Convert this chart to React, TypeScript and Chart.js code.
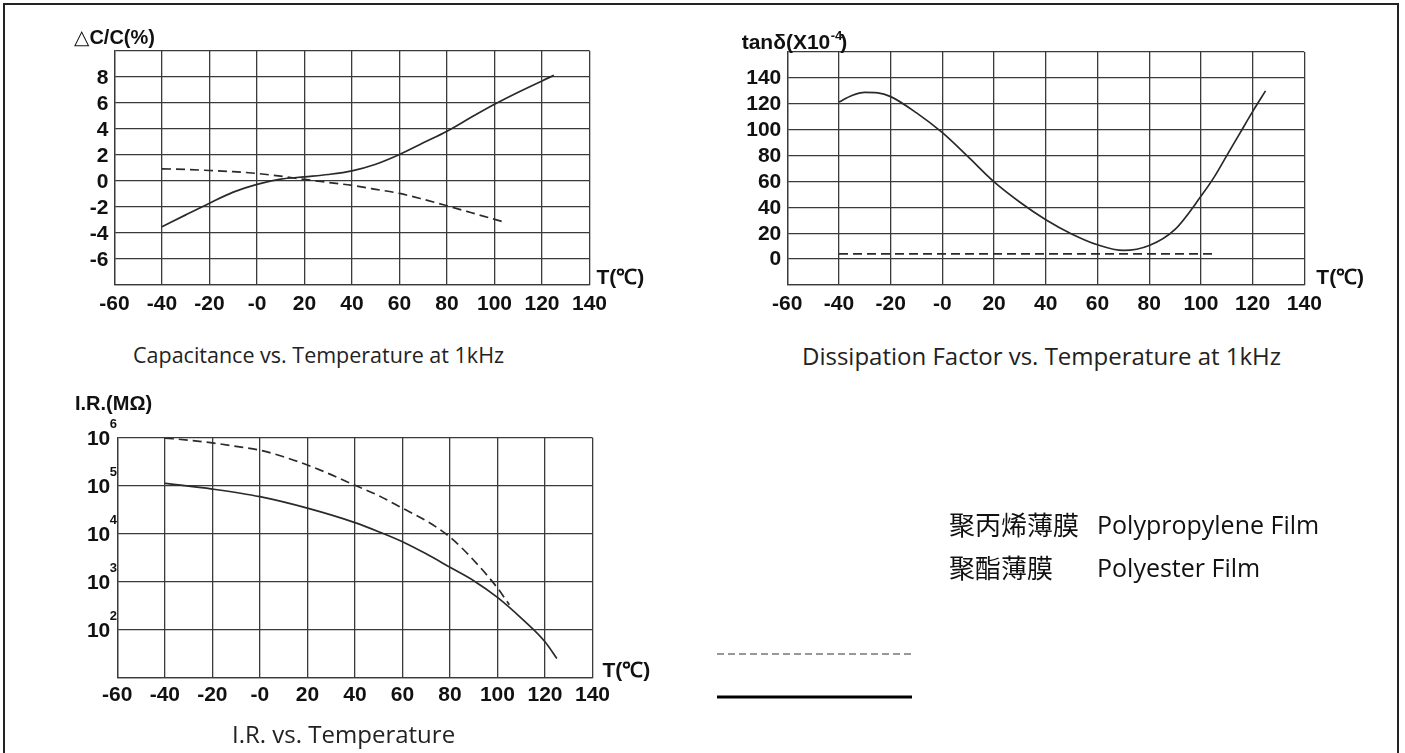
import React, { useEffect, useRef } from 'react';
import { Chart, registerables } from 'chart.js';

Chart.register(...registerables);

// ---------- shared temperature axis ----------
const tempTicks = [-60, -40, -20, 0, 20, 40, 60, 80, 100, 120, 140];
const tempTickLabels = ['-60', '-40', '-20', '-0', '20', '40', '60', '80', '100', '120', '140'];
const tempAxisTitle = 'T(℃)';

// ---------- Capacitance vs. Temperature ----------
const capTitleSymbol = '△';
const capTitleText = 'C/C(%)';
const capTicks = [-8, -6, -4, -2, 0, 2, 4, 6, 8, 10];
const capTickLabels = ['', '-6', '-4', '-2', '0', '2', '4', '6', '8', ''];
const capPolyesterT = [-40, -30, -20, -10, 0, 10, 20, 30, 40, 50, 60, 70, 80, 90, 100, 110, 125];
const capPolyester = [-3.57, -2.65, -1.75, -0.9, -0.3, 0.1, 0.28, 0.46, 0.74, 1.25, 2.0, 2.9, 3.8, 4.85, 5.87, 6.8, 8.1];
const capPolypropyleneT = [-40, -30, -20, -10, 0, 10, 20, 30, 40, 50, 60, 70, 80, 90, 105];
const capPolypropylene = [0.9, 0.85, 0.77, 0.68, 0.54, 0.33, 0.08, -0.15, -0.38, -0.68, -1.0, -1.45, -1.95, -2.47, -3.26];
const capCaption = 'Capacitance vs. Temperature at 1kHz';

// ---------- Dissipation factor vs. Temperature ----------
const dfTitleMain = 'tanδ(X10';
const dfTitleSup = '-4';
const dfTitleEnd = ')';
const dfTicks = [-20, 0, 20, 40, 60, 80, 100, 120, 140, 160];
const dfTickLabels = ['', '0', '20', '40', '60', '80', '100', '120', '140', ''];
const dfPolyesterT = [-40, -35, -30, -25, -20, -10, 0, 10, 20, 30, 40, 50, 60, 70, 80, 90, 100, 105, 110, 115, 120, 125];
const dfPolyester = [121.4, 126.5, 128.8, 128.5, 125.6, 113, 97.7, 79, 59.7, 44, 30.5, 19.5, 11.1, 6.7, 10.5, 23, 48.5, 63, 80, 97, 114, 130];
const dfPolypropyleneT = [-40, 105];
const dfPolypropylene = [4.1, 4.1];
const dfCaption = 'Dissipation Factor vs. Temperature at 1kHz';

// ---------- Insulation resistance vs. Temperature ----------
const irTitle = 'I.R.(MΩ)';
const irTicks = [10, 100, 1000, 10000, 100000, 1000000];
const irTickLabels = ['', '10', '10', '10', '10', '10'];
const irTickExponents = ['', '2', '3', '4', '5', '6'];
const irPolyesterT = [-40, -20, 0, 20, 40, 50, 60, 70, 80, 90, 100, 110, 120, 125];
const irPolyester = [112000, 85000, 59000, 34000, 17000, 11000, 6800, 3800, 2000, 1050, 470, 174, 56, 25];
const irPolypropyleneT = [-40, -30, -20, -10, 0, 10, 20, 30, 40, 50, 60, 70, 80, 90, 100, 105];
const irPolypropylene = [980000, 890000, 780000, 660000, 550000, 400000, 270000, 170000, 102000, 62000, 34000, 18600, 8500, 2800, 740, 330];
const irCaption = 'I.R. vs. Temperature';

// ---------- legend ----------
const legendCn = ['聚丙烯薄膜', '聚酯薄膜'];
const legendEn = ['Polypropylene Film', 'Polyester Film'];

// ---------- styles ----------
const TICK_FONT = '"Liberation Sans", Arial, sans-serif';
const CAPTION_FONT = '"Open Sans", "Noto Sans CJK SC", sans-serif';
const CJK_FONT = '"Noto Sans CJK SC", sans-serif';
const TEXT = '#111111';
const GRID = '#3a3a3a';
const CURVE = '#2a2a2a';

type Series = { t: number[]; v: number[]; dashed: boolean };
type Area = { left: number; top: number; right: number; bottom: number };
type PanelProps = {
  left: number;
  top: number;
  width: number;
  height: number;
  area: Area;
  logY?: boolean;
  yTicks: number[];
  yTickLabels: string[];
  xPad: number;
  yPad: number;
  yLabelOffset: number;
  series: Series[];
  decorate: (ctx: CanvasRenderingContext2D, chart: Chart) => void;
};

function Panel(p: PanelProps) {
  const ref = useRef<HTMLCanvasElement>(null);
  useEffect(() => {
    const canvas = ref.current;
    if (!canvas) return;
    const a = p.area;
    const tickFont = { family: TICK_FONT, size: 21, weight: 'bold' as const };
    const chart = new Chart(canvas, {
      type: 'line',
      data: {
        datasets: p.series.map((s) => ({
          data: s.t.map((x, i) => ({ x, y: s.v[i] })),
          borderColor: CURVE,
          borderWidth: 1.7,
          borderDash: s.dashed ? [9, 5] : [],
          pointRadius: 0,
          pointHoverRadius: 0,
          fill: false,
          cubicInterpolationMode: 'monotone' as const,
        })),
      },
      options: {
        responsive: false,
        animation: false,
        events: [],
        layout: { padding: { left: 0, top: a.top, right: p.width - a.right, bottom: 0 } },
        plugins: { legend: { display: false }, tooltip: { enabled: false }, title: { display: false } },
        scales: {
          x: {
            type: 'linear',
            min: tempTicks[0],
            max: tempTicks[tempTicks.length - 1],
            afterBuildTicks: (s: any) => {
              s.ticks = tempTicks.map((value) => ({ value }));
            },
            afterFit: (s: any) => {
              s.height = p.height - a.bottom;
            },
            grid: { color: GRID, lineWidth: 1.3, drawTicks: false },
            border: { color: GRID, width: 1.3 },
            ticks: {
              padding: p.xPad,
              color: TEXT,
              font: tickFont,
              autoSkip: false,
              maxRotation: 0,
              minRotation: 0,
              callback: (_v: any, i: number) => tempTickLabels[i],
            },
          },
          y: {
            type: p.logY ? 'logarithmic' : 'linear',
            min: p.yTicks[0],
            max: p.yTicks[p.yTicks.length - 1],
            afterBuildTicks: (s: any) => {
              s.ticks = p.yTicks.map((value) => ({ value }));
            },
            afterFit: (s: any) => {
              s.width = a.left;
            },
            grid: { color: GRID, lineWidth: 1.3, drawTicks: false },
            border: { color: GRID, width: 1.3 },
            ticks: {
              padding: p.yPad,
              labelOffset: p.yLabelOffset,
              color: TEXT,
              font: tickFont,
              autoSkip: false,
              callback: (_v: any, i: number) => p.yTickLabels[i],
            },
          } as any,
        },
      },
      plugins: [
        {
          id: 'decor',
          afterDraw: (c: Chart) => {
            const ctx = c.ctx;
            ctx.save();
            p.decorate(ctx, c);
            ctx.restore();
          },
        },
      ],
    });
    return () => chart.destroy();
  }, []);
  return (
    <canvas
      ref={ref}
      width={p.width}
      height={p.height}
      style={{ position: 'absolute', left: p.left, top: p.top, width: p.width, height: p.height, display: 'block' }}
    />
  );
}

function drawTempTitle(ctx: CanvasRenderingContext2D, c: Chart, dx: number, dy: number) {
  const a = c.chartArea;
  ctx.fillStyle = TEXT;
  ctx.font = `bold 21px ${TICK_FONT}`;
  ctx.textAlign = 'left';
  ctx.textBaseline = 'middle';
  ctx.fillText(tempAxisTitle, a.right + dx, a.bottom - dy);
}

const captionStyle = (left: number, top: number, size: number): React.CSSProperties => ({
  position: 'absolute',
  left,
  top,
  fontFamily: CAPTION_FONT,
  fontSize: size,
  lineHeight: `${size}px`,
  color: '#222',
  whiteSpace: 'nowrap',
});

const legendStyle = (left: number, top: number, cjk: boolean): React.CSSProperties => ({
  position: 'absolute',
  left,
  top,
  fontFamily: cjk ? CJK_FONT : CAPTION_FONT,
  fontSize: cjk ? 26 : 25,
  lineHeight: cjk ? '26px' : '25px',
  color: '#111',
  whiteSpace: 'nowrap',
});

export default function App() {
  return (
    <div
      style={{
        position: 'absolute',
        left: 0,
        top: 0,
        width: 1405,
        height: 753,
        overflow: 'hidden',
        background: '#fff',
      }}
    >
      <div
        style={{
          position: 'absolute',
          left: 3,
          top: 3,
          width: 1396,
          height: 800,
          border: '2px solid #222',
          boxSizing: 'border-box',
        }}
      />
      <Panel
        left={0}
        top={0}
        width={700}
        height={330}
        area={{ left: 114.5, top: 50.7, right: 589.5, bottom: 284.3 }}
        yTicks={capTicks}
        yTickLabels={capTickLabels}
        xPad={7.5}
        yPad={6}
        yLabelOffset={1.5}
        series={[
          { t: capPolyesterT, v: capPolyester, dashed: false },
          { t: capPolypropyleneT, v: capPolypropylene, dashed: true },
        ]}
        decorate={(ctx, c) => {
          const a = c.chartArea;
          ctx.fillStyle = TEXT;
          ctx.textAlign = 'left';
          ctx.textBaseline = 'middle';
          ctx.font = `20px "DejaVu Sans", sans-serif`;
          const x0 = a.left - 40.5;
          const y0 = a.top - 12;
          ctx.fillText(capTitleSymbol, x0, y0);
          const w = ctx.measureText(capTitleSymbol).width;
          ctx.font = `bold 20px ${TICK_FONT}`;
          ctx.fillText(capTitleText, x0 + w, y0);
          drawTempTitle(ctx, c, 7, 6);
        }}
      />
      <Panel
        left={700}
        top={0}
        width={705}
        height={330}
        area={{ left: 87.3, top: 52.1, right: 604.3, bottom: 285 }}
        yTicks={dfTicks}
        yTickLabels={dfTickLabels}
        xPad={7}
        yPad={6}
        yLabelOffset={0.5}
        series={[
          { t: dfPolyesterT, v: dfPolyester, dashed: false },
          { t: dfPolypropyleneT, v: dfPolypropylene, dashed: true },
        ]}
        decorate={(ctx, c) => {
          ctx.fillStyle = TEXT;
          ctx.textAlign = 'left';
          ctx.textBaseline = 'middle';
          ctx.font = `bold 21px ${TICK_FONT}`;
          const x0 = 41.7;
          const y0 = 43;
          ctx.fillText(dfTitleMain, x0, y0);
          const w1 = ctx.measureText(dfTitleMain).width;
          ctx.font = `bold 13px ${TICK_FONT}`;
          ctx.fillText(dfTitleSup, x0 + w1 + 0.5, y0 - 6.5);
          const w2 = ctx.measureText(dfTitleSup).width;
          ctx.font = `bold 21px ${TICK_FONT}`;
          ctx.fillText(dfTitleEnd, x0 + w1 + w2 - 1.5, y0);
          drawTempTitle(ctx, c, 12, 7);
        }}
      />
      <Panel
        left={0}
        top={370}
        width={700}
        height={383}
        area={{ left: 117.3, top: 67.7, right: 592.5, bottom: 307.7 }}
        logY
        yTicks={irTicks}
        yTickLabels={irTickLabels}
        xPad={5}
        yPad={7}
        yLabelOffset={1.5}
        series={[
          { t: irPolyesterT, v: irPolyester, dashed: false },
          { t: irPolypropyleneT, v: irPolypropylene, dashed: true },
        ]}
        decorate={(ctx, c) => {
          const a = c.chartArea;
          const ys = c.scales.y;
          ctx.fillStyle = TEXT;
          ctx.textAlign = 'left';
          ctx.textBaseline = 'middle';
          ctx.font = `bold 20px ${TICK_FONT}`;
          ctx.fillText(irTitle, 75, 34);
          ctx.font = `bold 13px ${TICK_FONT}`;
          irTicks.forEach((v, i) => {
            const e = irTickExponents[i];
            if (!e) return;
            ctx.fillText(e, a.left - 7.5, ys.getPixelForValue(v) - 13);
          });
          drawTempTitle(ctx, c, 10, 6);
        }}
      />
      <div style={captionStyle(133, 344.3, 21.5)}>{capCaption}</div>
      <div style={captionStyle(802, 343.8, 24)}>{dfCaption}</div>
      <div style={captionStyle(232, 721.8, 24)}>{irCaption}</div>

      <svg style={{ position: 'absolute', left: 0, top: 0 }} width={1405} height={753}>
        <line x1={717} y1={654} x2={912} y2={654} stroke="#333" strokeWidth={1.2} strokeDasharray="7 4" />
        <line x1={717} y1={697} x2={912} y2={697} stroke="#000" strokeWidth={3} />
      </svg>
      <div style={legendStyle(949, 511.3, true)}>{legendCn[0]}</div>
      <div style={legendStyle(1097, 512.2, false)}>{legendEn[0]}</div>
      <div style={legendStyle(949, 553.5, true)}>{legendCn[1]}</div>
      <div style={legendStyle(1097, 554.8, false)}>{legendEn[1]}</div>
    </div>
  );
}
